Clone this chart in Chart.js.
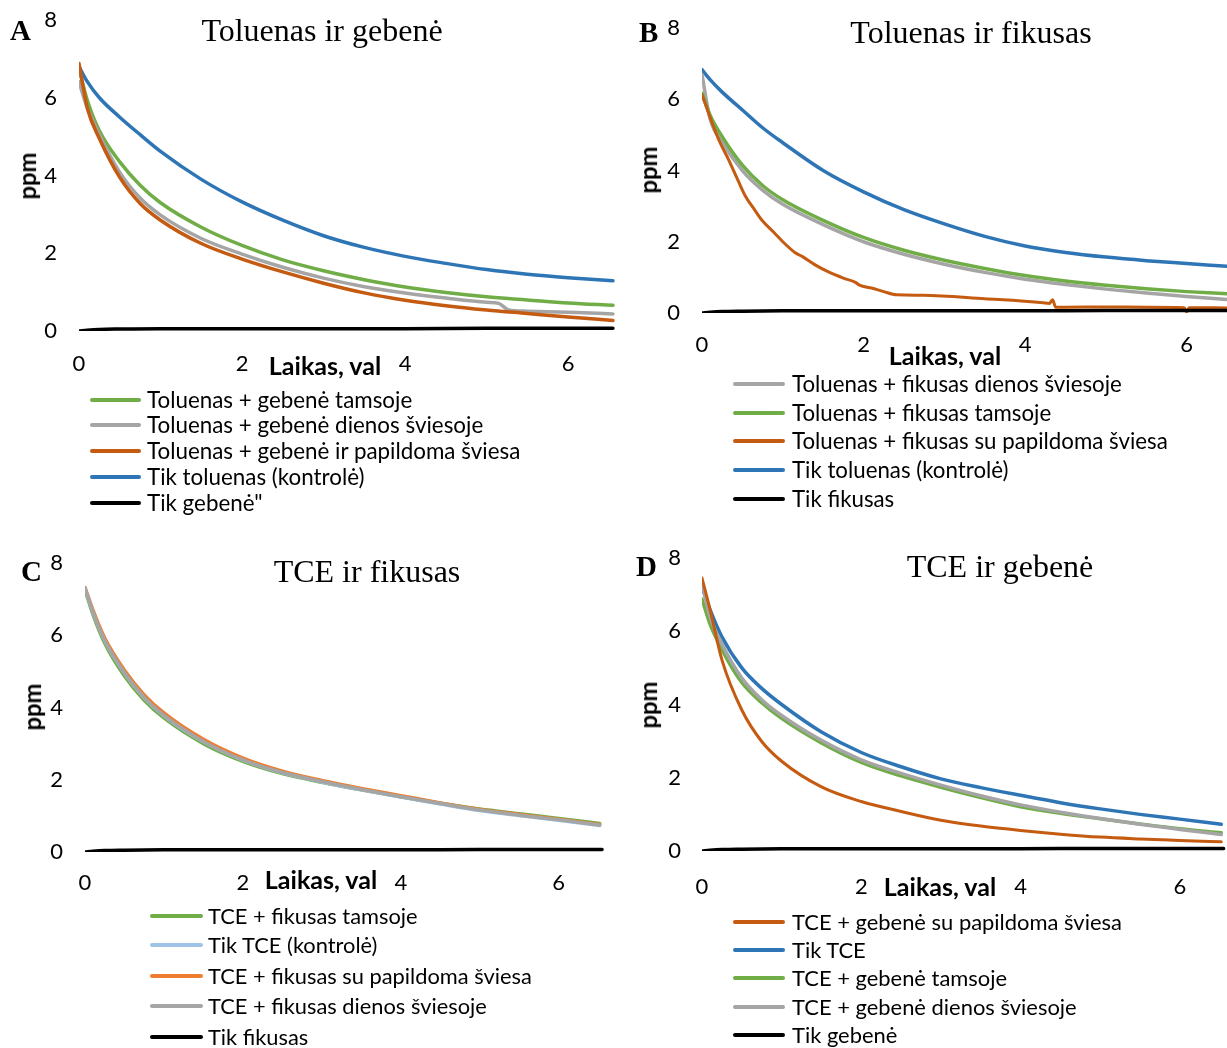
<!DOCTYPE html>
<html><head><meta charset="utf-8">
<script src="https://cdn.jsdelivr.net/npm/chart.js@4/dist/chart.umd.min.js"></script>
<style>
body{margin:0;width:1227px;height:1048px;background:#fff;position:relative;overflow:hidden;font-family:Lato,'Open Sans',sans-serif;color:#000}
canvas{position:absolute}
.t{position:absolute;white-space:nowrap;line-height:1}
.title{font-family:'Liberation Serif','Times New Roman',serif;font-size:32px;transform:translate(-50%,-50%)}
.letter{font-family:'Liberation Serif','Times New Roman',serif;font-weight:bold;font-size:29px;transform:translate(0,-50%)}
.xt{font-weight:bold;transform:translate(-50%,-50%)}
.yt{font-weight:bold;transform:translate(-50%,-50%) rotate(-90deg)}
</style></head><body>
<script>
// ---------- DATA ----------
const xTicks = [0, 2, 4, 6];
const yTicks = [0, 2, 4, 6, 8];

// Panel A: Toluenas ir gebenė
const tA = [0, 0.1, 0.25, 0.5, 0.75, 1, 1.5, 2, 2.5, 3, 3.5, 4, 4.5, 5, 5.5, 6, 6.55];
const A_green  = [6.75, 5.95, 5.15, 4.35, 3.75, 3.3, 2.67, 2.2, 1.83, 1.55, 1.32, 1.13, 0.99, 0.88, 0.8, 0.72, 0.66];
const A_orange = [6.88, 5.75, 4.95, 3.95, 3.28, 2.85, 2.25, 1.85, 1.52, 1.23, 0.98, 0.79, 0.65, 0.54, 0.45, 0.36, 0.27];
const A_blue   = [6.8, 6.42, 6.0, 5.5, 5.05, 4.62, 3.9, 3.32, 2.85, 2.45, 2.15, 1.92, 1.74, 1.58, 1.46, 1.37, 1.29];
const tA_gray  = [0, 0.1, 0.25, 0.5, 0.75, 1, 1.5, 2, 2.5, 3, 3.5, 4, 4.5, 5, 5.15, 5.27, 5.5, 6, 6.55];
const A_gray   = [6.41, 5.75, 5.05, 4.08, 3.42, 2.98, 2.38, 1.98, 1.64, 1.36, 1.14, 0.98, 0.85, 0.74, 0.71, 0.54, 0.51, 0.48, 0.44];

// Panel B: Toluenas ir fikusas
const tB = [0, 0.1, 0.25, 0.5, 0.75, 1, 1.5, 2, 2.5, 3, 3.5, 4, 4.5, 5, 5.5, 6, 6.5];
const B_gray   = [6.69, 5.45, 4.8, 4.0, 3.45, 3.05, 2.48, 2.0, 1.65, 1.37, 1.14, 0.95, 0.8, 0.67, 0.56, 0.46, 0.38];
const B_green  = [6.17, 5.55, 4.95, 4.15, 3.58, 3.18, 2.6, 2.12, 1.76, 1.48, 1.25, 1.05, 0.9, 0.78, 0.68, 0.6, 0.54];
const B_blue   = [6.83, 6.55, 6.2, 5.7, 5.2, 4.78, 4.0, 3.4, 2.9, 2.5, 2.15, 1.88, 1.7, 1.57, 1.47, 1.39, 1.31];
const tB_orange = [0, 0.06, 0.12, 0.22, 0.33, 0.45, 0.54, 0.65, 0.74, 0.9, 1.0, 1.15, 1.24, 1.4, 1.56, 1.75, 1.9, 1.95, 2.1, 2.25, 2.41, 2.74, 3.5, 4.22, 4.3, 4.34, 4.38, 4.5, 5.0, 5.5, 5.97, 6.0, 6.03, 6.5];
const B_orange  = [6.12, 5.75, 5.37, 4.8, 4.3, 3.7, 3.27, 2.9, 2.61, 2.24, 2.0, 1.7, 1.59, 1.35, 1.16, 0.98, 0.86, 0.78, 0.7, 0.6, 0.51, 0.5, 0.4, 0.29, 0.27, 0.37, 0.16, 0.16, 0.17, 0.16, 0.15, 0.03, 0.15, 0.14];

// Panel C: TCE ir fikusas
const tC = [0, 0.1, 0.25, 0.5, 0.75, 1, 1.5, 2, 2.5, 3, 3.5, 4, 4.5, 5, 5.5, 6, 6.52];
const C_green  = [7.25, 6.58, 5.78, 4.87, 4.2, 3.71, 3.0, 2.51, 2.17, 1.93, 1.72, 1.53, 1.35, 1.19, 1.06, 0.93, 0.79];
const C_ltblue = [7.3, 6.64, 5.85, 4.95, 4.27, 3.77, 3.05, 2.54, 2.19, 1.94, 1.72, 1.52, 1.33, 1.15, 1.01, 0.88, 0.73];
const C_orange = [7.32, 6.7, 5.92, 5.03, 4.35, 3.85, 3.12, 2.6, 2.24, 1.98, 1.76, 1.56, 1.36, 1.18, 1.04, 0.91, 0.76];
const C_gray   = [7.3, 6.65, 5.86, 4.96, 4.28, 3.78, 3.06, 2.55, 2.2, 1.95, 1.73, 1.53, 1.34, 1.16, 1.02, 0.89, 0.75];

// Panel D: TCE ir gebenė
const tD = [0, 0.1, 0.25, 0.5, 0.75, 1, 1.5, 2, 2.5, 3, 3.5, 4, 4.5, 5, 5.5, 6, 6.52];
const D_orange = [7.45, 6.6, 5.22, 3.85, 2.99, 2.45, 1.75, 1.35, 1.08, 0.84, 0.68, 0.56, 0.46, 0.38, 0.33, 0.29, 0.25];
const D_blue   = [7.22, 6.6, 5.85, 5.0, 4.44, 4.0, 3.25, 2.69, 2.3, 1.97, 1.73, 1.52, 1.32, 1.15, 1.0, 0.87, 0.73];
const D_green  = [6.88, 6.2, 5.5, 4.6, 4.05, 3.62, 2.95, 2.42, 2.05, 1.74, 1.46, 1.21, 1.03, 0.88, 0.74, 0.61, 0.5];
const D_gray   = [7.3, 6.4, 5.65, 4.72, 4.13, 3.7, 3.02, 2.49, 2.12, 1.8, 1.51, 1.26, 1.06, 0.89, 0.73, 0.59, 0.45];

// Plant-only controls (near zero)
const tPlant = [0, 0.1, 0.25, 0.5, 1, 2, 3, 4, 5, 6, 6.55];
const plantOnly = [0, 0.02, 0.04, 0.05, 0.06, 0.06, 0.06, 0.06, 0.07, 0.07, 0.07];

// ---------- STYLE ----------
const GREEN = '#70AD47', GRAY = '#A5A5A5', ORANGE = '#C55A11', BLUE = '#2E75B6',
      LTBLUE = '#9DC3E6', LTORANGE = '#ED7D31', BLACK = '#000000';

const panels = [
  { letter:'A', title:'Toluenas ir gebenė', canvas:{x:0,y:0,w:620,h:380}, area:{l:79,r:617,t:20,b:331}, xmax:6.6,
    xpad:20, ypad:22, letterPos:[10,30], titlePos:[322,30], ppm:[27,176], xlab:[325,366],
    leg:{x:90, sw:51, tx:147, rows:[400,425,451,477,503], w:374},
    series:[
      {name:'Toluenas + gebenė tamsoje', t:tA, v:A_green, c:GREEN, o:3},
      {name:'Toluenas + gebenė dienos šviesoje', t:tA_gray, v:A_gray, c:GRAY, o:2},
      {name:'Toluenas + gebenė ir papildoma šviesa', t:tA, v:A_orange, c:ORANGE, o:1},
      {name:'Tik toluenas (kontrolė)', t:tA, v:A_blue, c:BLUE, o:4},
      {name:'Tik gebenė"', t:tPlant, v:plantOnly, c:BLACK, o:0}
    ]},
  { letter:'B', title:'Toluenas ir fikusas', canvas:{x:620,y:0,w:607,h:380}, area:{l:82,r:607,t:28,b:313}, xmax:6.5,
    xpad:19, ypad:22, letterPos:[639,32], titlePos:[971,32], ppm:[648,170], xlab:[945,356],
    leg:{x:733, sw:52, tx:792, rows:[384,413,441,470,499], w:376},
    series:[
      {name:'Toluenas + fikusas dienos šviesoje', t:tB, v:B_gray, c:GRAY, o:3},
      {name:'Toluenas + fikusas tamsoje', t:tB, v:B_green, c:GREEN, o:2},
      {name:'Toluenas + fikusas su papildoma šviesa', t:tB_orange, v:B_orange, c:ORANGE, o:1, bw:3},
      {name:'Tik toluenas (kontrolė)', t:tB, v:B_blue, c:BLUE, o:4},
      {name:'Tik fikusas', t:tPlant, v:plantOnly, c:BLACK, o:0}
    ]},
  { letter:'C', title:'TCE ir fikusas', canvas:{x:0,y:540,w:620,h:360}, area:{l:85,r:606,t:23,b:312}, xmax:6.6,
    xpad:18, ypad:22, letterPos:[21,571], titlePos:[367,571], ppm:[32,707], xlab:[321,880],
    leg:{x:150, sw:53, tx:208, rows:[916,945,976,1006,1037], w:324},
    series:[
      {name:'TCE + fikusas tamsoje', t:tC, v:C_green, c:GREEN, o:4},
      {name:'Tik TCE (kontrolė)', t:tC, v:C_ltblue, c:LTBLUE, o:3},
      {name:'TCE + fikusas su papildoma šviesa', t:tC, v:C_orange, c:LTORANGE, o:2},
      {name:'TCE + fikusas dienos šviesoje', t:tC, v:C_gray, c:GRAY, o:1},
      {name:'Tik fikusas', t:tPlant, v:plantOnly, c:BLACK, o:0}
    ]},
  { letter:'D', title:'TCE ir gebenė', canvas:{x:620,y:540,w:607,h:360}, area:{l:82,r:606,t:18,b:311}, xmax:6.58,
    xpad:23, ypad:21, letterPos:[636,566], titlePos:[1000,566], ppm:[648,705], xlab:[940,887],
    leg:{x:733, sw:52, tx:792, rows:[922,950,978,1007,1035], w:330},
    series:[
      {name:'TCE + gebenė su papildoma šviesa', t:tD, v:D_orange, c:ORANGE, o:1, bw:3},
      {name:'Tik TCE', t:tD, v:D_blue, c:BLUE, o:4},
      {name:'TCE + gebenė tamsoje', t:tD, v:D_green, c:GREEN, o:3},
      {name:'TCE + gebenė dienos šviesoje', t:tD, v:D_gray, c:GRAY, o:2},
      {name:'Tik gebenė', t:tPlant, v:plantOnly, c:BLACK, o:0}
    ]}
];

const tickFont = {family:'Lato', size:22};

function addText(cls, txt, x, y){
  const d = document.createElement('div');
  d.className = 't ' + cls; d.textContent = txt;
  d.style.left = x + 'px'; d.style.top = y + 'px';
  document.body.appendChild(d); return d;
}
const measureCtx = document.createElement('canvas').getContext('2d');
function textW(txt, size, weight){ measureCtx.font = (weight||'normal') + ' ' + size + 'px Lato'; return measureCtx.measureText(txt).width; }

function buildChart(cv, p, pad, st) {
  const datasets = p.series.map(s => ({
    label: s.name,
    data: s.t.map((x, i) => ({x: x, y: s.v[i]})),
    borderColor: s.c, backgroundColor: s.c,
    borderWidth: s.bw || 3.5, pointRadius: 0, fill: false,
    cubicInterpolationMode: 'monotone', tension: 0,
    order: s.o, borderJoinStyle: 'round', borderCapStyle: 'round'
  }));
  return new Chart(cv, {
    type: 'scatter',
    data: {datasets},
    options: {
      responsive: false, animation: false, showLine: true,
      layout: {autoPadding: false, padding: Object.assign({}, pad)},
      plugins: {legend: {display: false}, tooltip: {enabled: false}},
      scales: {
        x: {type: 'linear', min: 0, max: p.xmax,
            grid: {display: false, drawTicks: false}, border: {display: false},
            ticks: {font: tickFont, color: '#000', padding: p.xpad, maxRotation: 0, autoSkip: false},
            afterBuildTicks: s => { s.ticks = xTicks.map(v => ({value: v})); },
            afterFit: s => { s.height = st.xh; s.paddingLeft = 0; s.paddingRight = 0; }},
        y: {min: 0, max: 8,
            grid: {display: false, drawTicks: false}, border: {display: false},
            ticks: {font: tickFont, color: '#000', padding: p.ypad},
            afterBuildTicks: s => { s.ticks = yTicks.map(v => ({value: v})); },
            afterFit: s => { s.width = st.yw; s.paddingTop = 0; s.paddingBottom = 0; }}
      }
    }
  });
}

panels.forEach(p => {
  const cv = document.createElement('canvas');
  cv.width = p.canvas.w; cv.height = p.canvas.h;
  cv.style.left = p.canvas.x + 'px'; cv.style.top = p.canvas.y + 'px';
  cv.style.width = p.canvas.w + 'px'; cv.style.height = p.canvas.h + 'px';
  document.body.appendChild(cv);
  const st = {yw: p.area.l, xh: p.canvas.h - p.area.b};
  const pad = {left: 0, top: p.area.t, right: p.canvas.w - p.area.r, bottom: 0};
  let chart;
  for (let k = 0; k < 4; k++) {
    chart = buildChart(cv, p, pad, st);
    const ys = chart.scales.y, xs = chart.scales.x;
    const top = ys.getPixelForValue(8), bot = ys.getPixelForValue(0);
    const left = xs.getPixelForValue(0), right = xs.getPixelForValue(p.xmax);
    const d = [p.area.t - top, bot - p.area.b, p.area.l - left, right - p.area.r];
    if (d.every(v => Math.abs(v) < 0.5) || k === 3) break;
    chart.destroy();
    pad.top += d[0]; st.xh += d[1]; st.yw += d[2]; pad.right += d[3];
  }
  addText('letter', p.letter, p.letterPos[0], p.letterPos[1]);
  addText('title', p.title, p.titlePos[0], p.titlePos[1]);
  const ppm = addText('yt', 'ppm', p.ppm[0], p.ppm[1]);
  ppm.style.fontSize = (22 * 47 / textW('ppm', 22, 'bold')).toFixed(2) + 'px';
  const xl = addText('xt', 'Laikas, val', p.xlab[0], p.xlab[1]);
  xl.style.fontSize = (22 * 113 / textW('Laikas, val', 22, 'bold')).toFixed(2) + 'px';
  // legend
  const longest = p.series.reduce((a, s) => textW(s.name, 20) > textW(a, 20) ? s.name : a, '');
  const fs = 20 * p.leg.w / textW(longest, 20);
  p.series.forEach((s, i) => {
    const sw = document.createElement('div');
    sw.style.cssText = `position:absolute;left:${p.leg.x}px;top:${p.leg.rows[i]-1.75}px;width:${p.leg.sw}px;height:3.5px;background:${s.c};border-radius:2px`;
    document.body.appendChild(sw);
    const d = addText('', s.name, p.leg.tx, p.leg.rows[i]);
    d.style.fontSize = fs.toFixed(2) + 'px';
    d.style.transform = 'translateY(-50%)';
  });
});
</script>
</body></html>
